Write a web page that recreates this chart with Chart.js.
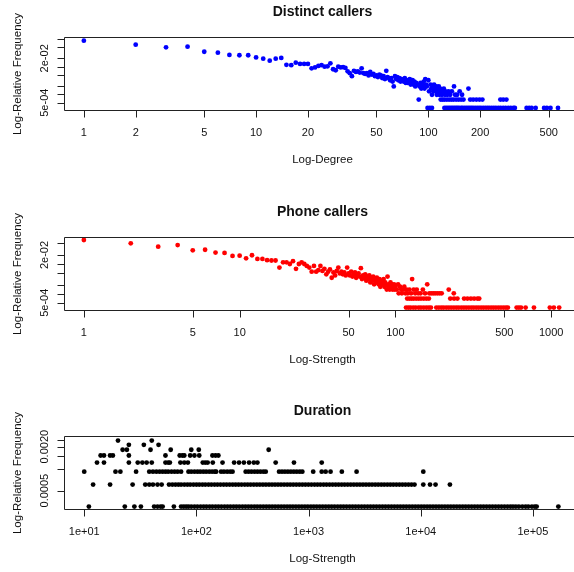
<!DOCTYPE html>
<html>
<head>
<meta charset="utf-8">
<title>Degree and strength distributions</title>
<script src="https://cdn.jsdelivr.net/npm/chart.js@4.4.1/dist/chart.umd.min.js"></script>
<style>
  html, body { margin: 0; background: #fff; }
  body { position: relative; width: 574px; height: 572px; overflow: hidden; }
  canvas { position: absolute; left: 0; }
</style>
</head>
<body>
<canvas id="distinct" width="574" height="200" style="top:0"></canvas>
<canvas id="phone" width="574" height="200" style="top:200px"></canvas>
<canvas id="duration" width="574" height="173" style="top:399px"></canvas>
<script>
const FONT = '"Liberation Sans", Arial, sans-serif';

// --- Distinct callers: degree -> number of callers (out of distinctTotal)
const distinctTotal = 3100;
const distinctDegree = [1,2,3,4,5,6,7,8,9,10, 11,12,13,14,15,16,17,18,19,20,
  21,22,23,24,25,26,27,28,29,30, 31,32,33,34,35,36,37,38,39,40,
  41,42,43,44,45,46,47,48,49,50, 51,52,53,54,55,56,57,58,59,60,
  61,62,63,64,65,66,67,68,69,70, 71,72,73,74,75,76,77,78,79,80,
  81,82,83,84,85,86,88,89,90,91, 92,93,94,95,96,97,98,100,101,103,
  104,105,106,107,108,109,110,111,112,113, 114,115,116,117,119,120,122,123,125,126,
  129,131,134,137,141,143,147,152,157,171];
const distinctCount = [268,193,155,163,107,99,82,80,80,67, 60,51,60,64,36,35,43,39,39,39,
  27,29,33,35,31,32,41,25,23,31, 29,30,28,21,18,14,22,20,21,19,
  27,18,17,18,15,20,16,17,14,15, 13,16,15,12,14,11,22,13,12,10,
  12,9,6,14,11,13,10,12,9,11, 10,9,12,8,10,8,9,11,7,8,
  10,7,9,6,8,7,2,6,8,5, 7,6,9,5,11,7,6,10,4,7,
  5,3,6,4,7,5,4,6,3,5, 4,6,3,5,4,3,4,5,3,4,
  3,4,3,4,6,3,3,4,3,5];
const distinctTwice = [118,121,124,128,132,136,140,145,150,155,160,175,182,190,198,206,262,272,284];
const distinctOnce = [99,102,105,124,127,130,133,136,139,142,145,148,151,155,158,162,166,170,174,178,
  182,187,192,197,202,208,214,220,226,233,240,247,255,263,272,281,291,301,312,318,
  372,385,398,420,470,488,512,566];
const distinctXTicks = [1, 2, 5, 10, 20, 50, 100, 200, 500];
const distinctXLabels = ['1', '2', '5', '10', '20', '50', '100', '200', '500'];
const distinctYTicks = [0.1, 0.05, 0.02, 0.01, 0.005, 0.002, 0.001, 0.0005];
const distinctYLabels = ['', '', '2e-02', '', '', '', '', '5e-04'];

// --- Phone callers: strength -> number of callers (out of phoneTotal)
const phoneTotal = 2900;
const phoneStrength = [1,2,3,4,5,6,7,8,9,10, 11,12,13,14,15,16,17,18,19,20,
  21,22,23,24,25,26,27,28,29,30, 31,32,33,34,35,36,37,38,39,40,
  41,42,43,44,45,46,47,48,49,50, 51,52,53,54,55,56,57,58,59,60,
  61,62,63,64,65,66,67,68,69,70, 71,72,73,74,75,76,77,78,79,80,
  81,82,83,84,85,86,87,88,89,90, 91,92,93,94,95,96,97,98,99,100,
  102,104,105,107,109,110,112,114,116,118, 120,123,126,128,131,134,137,140,145,150,
  155,160,165,170,175,180,186,192,198,220, 237];
const phoneCount = [185,143,110,125,83,87,70,68,54,55, 45,57,43,43,39,38,38,22,33,33,
  29,36,20,29,33,29,25,22,16,25, 16,18,25,17,20,13,16,19,10,15,
  12,17,22,14,16,13,15,12,22,14, 12,16,11,13,15,10,12,14,11,21,
  9,12,10,13,8,11,9,12,7,10, 8,11,6,9,7,10,8,6,9,5,
  7,8,6,9,5,7,6,4,11,5, 6,4,7,5,6,4,5,6,4,5,
  4,6,3,5,4,3,4,5,3,4, 3,4,3,9,4,3,4,3,3,4,
  3,6,3,3,3,3,3,3,3,4, 3];
const phoneTwice = [119,123,127,131,136,141,146,152,158,164,225,238,250,276,290,305,320,336,345];
const phoneOnce = [117,121,125,130,135,141,146,152,158,164,169,183,190,197,204,212,220,228,237,246,
  255,265,275,285,296,307,318,330,342,355,368,382,396,411,426,442,459,476,494,512,
  527,600,620,640,685,775,980,1040,1125];
const phoneXTicks = [1, 5, 10, 50, 100, 500, 1000];
const phoneXLabels = ['1', '5', '10', '50', '100', '500', '1000'];
const phoneYTicks = [0.05, 0.02, 0.01, 0.005, 0.002, 0.001, 0.0005];
const phoneYLabels = ['', '2e-02', '', '', '', '', '5e-04'];

// --- Duration: seconds, grouped by how many callers share that total (out of durationTotal)
const durationTotal = 3300;
const durationEight = [20, 40];
const durationSeven = [25, 34, 46];
const durationSix = [22, 24, 39, 59, 90, 105, 441];
const durationFive = [14, 15, 17, 18, 25, 53, 71, 75, 78, 88, 96, 106, 139, 148, 157];
const durationFour = [13,15,25,30,33,36,40,53,56,58,72,78,84,114,120,126,140,171,217,240,
  265,295,325,350,509,741,1310];
const durationThree = [10,19,21,29,38,41,44,47,50,53,56,60,64,68,73,85,90,96,102,108,
  115,122,130,138,146,150,166,176,188,200,210,275,292,310,330,350,372,395,415,546,
  580,616,655,696,740,786,835,880,1100,1310,1420,1570,1980,2680,10540];
const durationTwice = [12,17,27,35,38,41,45,49,57,61,65,69,73,78,83,88,94,100,
  106,113,120,128,136,145,154,164,175,186,198,211,224,238,253,270,287,305,325,346,
  368,392,417,444,472,502,534,568,605,644,685,729,776,826,879,935,995,1060,1130,1200,
  1275,1360,1445,1540,1640,1745,1855,1975,2100,2235,2380,2535,2700,2870,3055,3250,3460,3680,3920,4170,
  4440,4720,5030,5350,5690,6060,6450,6860,7300,7770,8270,8800,10540,12100,13550,18200];
const durationOnce = [11,23,28,32,42,45,48,50,63,73,77,81,85,90,96,102,109,116,123,
  131,139,148,157,167,178,189,201,214,227,241,257,273,290,308,328,348,370,394,419,
  445,473,503,535,569,605,643,683,726,772,821,873,928,986,1050,1115,1185,1260,1340,1425,
  1515,1610,1710,1820,1935,2055,2185,2325,2470,2625,2790,2970,3155,3355,3565,3790,4030,4285,4555,4840,
  5145,5470,5815,6180,6570,6985,7425,7890,8390,8920,9480,10080,10710,11390,12100,12870,13680,14540,15460,16430,
  17470,18570,19740,20990,22310,23720,25210,26800,28490,30290,32200,34230,36380,38680,41110,43710,46460,49390,52500,55810,
  59330,63000,66500,70500,75000,80500,86000,91000,98000,104000,108000,168600];
const durationXTicks = [10, 100, 1000, 10000, 100000];
const durationXLabels = ['1e+01', '1e+02', '1e+03', '1e+04', '1e+05'];
const durationYTicks = [0.0025, 0.002, 0.0015, 0.001, 0.0005];
const durationYLabels = ['', '0.0020', '', '', '0.0005'];

function points(xs, counts, total) {
  return xs.map((x, i) => ({ x, y: counts[i] / total }));
}

function level(xs, count, total) {
  return xs.map(x => ({ x, y: count / total }));
}

function framePlugin(p) {
  return {
    id: 'frame',
    afterDatasetsDraw(chart) {
      const { ctx, chartArea: a, scales: { x, y } } = chart;
      const cx = 322.5;
      ctx.save();
      ctx.strokeStyle = '#222';
      ctx.lineWidth = 1;
      ctx.beginPath();
      // box: right side sits just past the window edge
      ctx.moveTo(chart.width, a.top);
      ctx.lineTo(a.left, a.top);
      ctx.lineTo(a.left, a.bottom);
      ctx.lineTo(chart.width, a.bottom);
      p.xTicks.forEach(v => {
        const px = Math.round(x.getPixelForValue(v)) + 0.5;
        ctx.moveTo(px, a.bottom);
        ctx.lineTo(px, a.bottom + 7);
      });
      p.yTicks.forEach(v => {
        const py = Math.round(y.getPixelForValue(v)) + 0.5;
        ctx.moveTo(a.left - 7, py);
        ctx.lineTo(a.left, py);
      });
      ctx.stroke();

      ctx.fillStyle = '#111';
      ctx.textAlign = 'center';
      ctx.textBaseline = 'middle';
      ctx.font = 'bold 14px ' + FONT;
      ctx.fillText(p.title, cx, 12);

      ctx.font = '11px ' + FONT;
      p.xTicks.forEach((v, i) => ctx.fillText(p.xLabels[i], x.getPixelForValue(v), a.bottom + 22));
      p.yTicks.forEach((v, i) => {
        if (!p.yLabels[i]) return;
        ctx.save();
        ctx.translate(45, y.getPixelForValue(v));
        ctx.rotate(-Math.PI / 2);
        ctx.fillText(p.yLabels[i], 0, 0);
        ctx.restore();
      });

      ctx.font = '11.5px ' + FONT;
      ctx.fillText(p.xTitle, cx, 160);
      ctx.save();
      ctx.translate(18, (a.top + a.bottom) / 2);
      ctx.rotate(-Math.PI / 2);
      ctx.fillText('Log-Relative Frequency', 0, 0);
      ctx.restore();
      ctx.restore();
    }
  };
}

function panel(id, color, sets, p) {
  const canvas = document.getElementById(id);
  return new Chart(canvas, {
    type: 'scatter',
    data: {
      datasets: sets.map(data => ({
        data,
        pointBackgroundColor: color,
        pointBorderWidth: 0,
        pointRadius: 2.4,
        pointHoverRadius: 2.4,
        clip: false
      }))
    },
    options: {
      responsive: false,
      animation: false,
      events: [],
      layout: { padding: { left: 64.5, top: 37.5, right: 0, bottom: canvas.height - 110.5 } },
      plugins: { legend: { display: false }, tooltip: { enabled: false } },
      scales: {
        x: { type: 'logarithmic', display: false, min: p.xMin, max: p.xMax },
        y: { type: 'logarithmic', display: false, min: p.yMin, max: p.yMax }
      }
    },
    plugins: [framePlugin(p)]
  });
}

panel('distinct', '#0000ff', [
  points(distinctDegree, distinctCount, distinctTotal),
  level(distinctTwice, 2, distinctTotal),
  level(distinctOnce, 1, distinctTotal)
], {
  title: 'Distinct callers', xTitle: 'Log-Degree',
  xTicks: distinctXTicks, xLabels: distinctXLabels,
  yTicks: distinctYTicks, yLabels: distinctYLabels,
  xMin: 0.772, xMax: 679, yMin: 2.61e-4, yMax: 0.113
});

panel('phone', '#ff0000', [
  points(phoneStrength, phoneCount, phoneTotal),
  level(phoneTwice, 2, phoneTotal),
  level(phoneOnce, 1, phoneTotal)
], {
  title: 'Phone callers', xTitle: 'Log-Strength',
  xTicks: phoneXTicks, xLabels: phoneXLabels,
  yTicks: phoneYTicks, yLabels: phoneYLabels,
  xMin: 0.751, xMax: 1352, yMin: 2.75e-4, yMax: 0.0773
});

panel('duration', '#000000', [
  level(durationEight, 8, durationTotal),
  level(durationSeven, 7, durationTotal),
  level(durationSix, 6, durationTotal),
  level(durationFive, 5, durationTotal),
  level(durationFour, 4, durationTotal),
  level(durationThree, 3, durationTotal),
  level(durationTwice, 2, durationTotal),
  level(durationOnce, 1, durationTotal)
], {
  title: 'Duration', xTitle: 'Log-Strength',
  xTicks: durationXTicks, xLabels: durationXLabels,
  yTicks: durationYTicks, yLabels: durationYLabels,
  xMin: 6.67, xMax: 221300, yMin: 2.76e-4, yMax: 2.76e-3
});
</script>
</body>
</html>
